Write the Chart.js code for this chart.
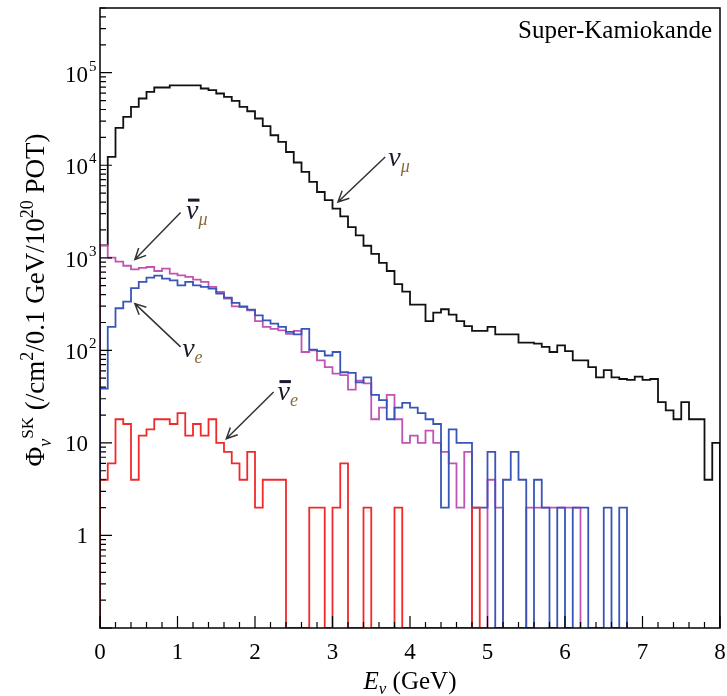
<!DOCTYPE html>
<html>
<head>
<meta charset="utf-8">
<title>Super-Kamiokande flux</title>
<script src="https://cdn.jsdelivr.net/npm/chart.js@4.4.0/dist/chart.umd.min.js"></script>
<style>
  html, body { margin: 0; padding: 0; background: #fff; }
  canvas { display: block; }
</style>
</head>
<body>
<canvas id="flux-chart" width="727" height="696"></canvas>
<script>
// Binning: 0.1 GeV wide bins from 0 to 8 GeV
const BIN_WIDTH = 0.1;
const E_MIN = 0;
const E_MAX = 8;
const FLUX_MIN = 0.1;
const FLUX_MAX = 5e5;

// Flux per bin (/cm2/0.1 GeV/1e20 POT), 80 bins each
const numuFlux = [
  1365, 12300, 25300, 33300, 42700, 52600, 62100, 69200, 69200, 72800,
  72800, 72800, 72800, 67500, 64700, 59600, 54800, 49600, 42700, 38300,
  32000, 26400, 21100, 17900, 13900, 10700, 8470, 6600, 5140, 4200,
  3400, 2800, 2150, 1750, 1350, 1100, 880, 720, 520, 430,
  312, 312, 207, 256, 278, 243, 207, 183, 162, 162,
  179, 149, 149, 149, 121, 121, 118, 109, 96, 113,
  98, 78, 78, 66, 51, 61, 51, 49, 48, 52,
  48, 49, 27.6, 22.5, 18, 27.6, 18, 18, 4, 10
];
const numubarFlux = [
  1365, 1005, 910, 820, 750, 780, 795, 720, 764, 675,
  647, 621, 581, 548, 484, 427, 362, 299, 294, 270,
  207, 179, 171, 164, 151, 162, 96, 100, 78, 66,
  56, 54, 37.6, 47, 44, 18, 24, 33, 18, 10,
  12, 10, 13.6, 10, 8, 6, 2, 8, 0, 0,
  4, 2, 0, 0, 0, 2, 2, 2, 2, 2,
  2, 2, 0, 0, 0, 0, 0, 0, 0, 0,
  0, 0, 0, 0, 0, 0, 0, 0, 0, 0
];
const nueFlux = [
  38.5, 179, 285, 336, 470, 548, 610, 641, 596, 571,
  504, 548, 504, 484, 464, 410, 371, 325, 299, 275,
  239, 211, 194, 179, 158, 149, 171, 102, 98, 88,
  96, 58, 57, 45, 51, 33, 29, 18, 24, 27,
  24, 21, 18, 16, 2, 14, 10, 10, 2, 2,
  8, 0, 4, 8, 4, 0, 4, 2, 0, 2,
  0, 2, 2, 0, 0, 2, 0, 2, 0, 0,
  0, 0, 0, 0, 0, 0, 0, 0, 0, 0
];
const nuebarFlux = [
  4, 6, 18, 16, 4, 12, 14, 18, 18, 16,
  21, 12, 16, 12, 18, 10, 8, 6, 4, 8,
  2, 4, 4, 4, 0, 0, 0, 2, 2, 0,
  2, 6, 0, 0, 2, 0, 0, 0, 2, 0,
  0, 0, 0, 0, 0, 0, 0, 0, 2, 0,
  0, 0, 0, 0, 0, 0, 0, 0, 0, 0,
  0, 0, 0, 0, 0, 0, 0, 0, 0, 0,
  0, 0, 0, 0, 0, 0, 0, 0, 0, 0
];

// Axis labels
const xTickLabels = ['0', '1', '2', '3', '4', '5', '6', '7', '8'];
const yTickValues = [1, 10, 100, 1000, 10000, 100000];

// Arrow annotations, in data coordinates (GeV, flux)
const notes = [
  { nu: 'ν', sub: 'μ', bar: false, text: [3.72, 9900], from: [3.68, 12300], to: [3.07, 4010] },
  { nu: 'ν', sub: 'μ', bar: true,  text: [1.11, 2650], from: [1.04, 3080], to: [0.45, 960] },
  { nu: 'ν', sub: 'e', bar: false, text: [1.06, 84],   from: [1.04, 109],  to: [0.45, 320] },
  { nu: 'ν', sub: 'e', bar: true,  text: [2.29, 29],   from: [2.24, 35.4], to: [1.63, 11.1] }
];

const SERIF = '"Liberation Serif", "DejaVu Serif", serif';

// Turn bin contents into the corner points of a step outline
function histPoints(values) {
  let last = values.length - 1;
  while (last > 0 && values[last] <= 0) last--;
  const pts = [{ x: E_MIN, y: FLUX_MIN }];
  for (let i = 0; i <= last; i++) {
    pts.push({ x: i / 10, y: values[i] > 0 ? values[i] : FLUX_MIN });
  }
  const end = (last + 1) * BIN_WIDTH;
  pts.push({ x: end, y: FLUX_MIN });
  return pts;
}

function histDataset(label, values, color) {
  return {
    label: label,
    data: histPoints(values),
    borderColor: color,
    borderWidth: 1.8,
    stepped: 'before',
    pointRadius: 0,
    fill: false,
    tension: 0
  };
}

// Draw a run of text pieces (regular / italic / raised / lowered) from x
function drawPieces(ctx, pieces, x, y) {
  let cx = x;
  pieces.forEach(p => {
    ctx.font = (p.italic ? 'italic ' : '') + p.size + 'px ' + SERIF;
    ctx.fillText(p.t, cx, y + (p.dy || 0));
    cx += ctx.measureText(p.t).width;
  });
  return cx - x;
}

function piecesWidth(ctx, pieces) {
  let w = 0;
  pieces.forEach(p => {
    ctx.font = (p.italic ? 'italic ' : '') + p.size + 'px ' + SERIF;
    w += ctx.measureText(p.t).width;
  });
  return w;
}

function drawArrow(ctx, x1, y1, x2, y2) {
  const ang = Math.atan2(y2 - y1, x2 - x1);
  const head = 12;
  ctx.beginPath();
  ctx.moveTo(x1, y1);
  ctx.lineTo(x2, y2);
  ctx.moveTo(x2 - head * Math.cos(ang - 0.45), y2 - head * Math.sin(ang - 0.45));
  ctx.lineTo(x2, y2);
  ctx.lineTo(x2 - head * Math.cos(ang + 0.45), y2 - head * Math.sin(ang + 0.45));
  ctx.stroke();
}

// Frame, inward ticks, labels, titles and arrows
const decorations = {
  id: 'decorations',
  afterDraw(chart) {
    const ctx = chart.ctx;
    const area = chart.chartArea;
    const xs = chart.scales.x;
    const ys = chart.scales.y;
    ctx.save();
    ctx.fillStyle = '#000';
    ctx.strokeStyle = '#000';

    // frame
    ctx.lineWidth = 1.5;
    ctx.strokeRect(area.left, area.top, area.right - area.left, area.bottom - area.top);

    // x ticks every 0.2 GeV, long ones at whole GeV
    ctx.lineWidth = 1.2;
    ctx.beginPath();
    for (let k = 0; k <= 40; k++) {
      const px = xs.getPixelForValue(k * 0.2);
      const len = k % 5 === 0 ? 12 : 6;
      ctx.moveTo(px, area.bottom);
      ctx.lineTo(px, area.bottom - len);
    }
    // y ticks: 1..9 x 10^n
    for (let d = -1; d <= 5; d++) {
      for (let m = 1; m <= 9; m++) {
        const v = m * Math.pow(10, d);
        if (v < FLUX_MIN || v > FLUX_MAX) continue;
        const py = ys.getPixelForValue(v);
        const len = m === 1 ? 12 : 6;
        ctx.moveTo(area.left, py);
        ctx.lineTo(area.left + len, py);
      }
    }
    ctx.stroke();

    // x tick labels
    ctx.font = '23px ' + SERIF;
    ctx.textAlign = 'center';
    ctx.textBaseline = 'alphabetic';
    xTickLabels.forEach((lab, i) => {
      ctx.fillText(lab, xs.getPixelForValue(i), 659);
    });

    // y tick labels, powers of ten with raised exponent
    ctx.textBaseline = 'middle';
    yTickValues.forEach(v => {
      const py = ys.getPixelForValue(v);
      const exp = Math.round(Math.log10(v));
      ctx.textAlign = 'right';
      ctx.font = '23px ' + SERIF;
      if (exp <= 1) {
        ctx.fillText(String(v), 88, py + 2);
      } else {
        ctx.fillText('10', 88, py + 3);
        ctx.textAlign = 'left';
        ctx.font = '15px ' + SERIF;
        ctx.fillText(String(exp), 89, py - 6);
      }
    });

    // x title
    ctx.textAlign = 'left';
    ctx.textBaseline = 'alphabetic';
    const xTitle = [
      { t: 'E', size: 25, italic: true },
      { t: 'ν', size: 17, italic: true, dy: 5 },
      { t: ' (GeV)', size: 25 }
    ];
    const xw = piecesWidth(ctx, xTitle);
    drawPieces(ctx, xTitle, (area.left + area.right) / 2 - xw / 2, 689);

    // y title, rotated
    const yTitle = [
      { t: 'Φ', size: 27 },
      { t: 'ν', size: 18, italic: true, dy: 7 },
      { t: 'SK', size: 17, dy: -11 },
      { t: ' (/cm', size: 27 },
      { t: '2', size: 18, dy: -11 },
      { t: '/0.1 GeV/10', size: 27 },
      { t: '20', size: 18, dy: -11 },
      { t: ' POT)', size: 27 }
    ];
    const yw = piecesWidth(ctx, yTitle);
    ctx.save();
    ctx.translate(44, 300);
    ctx.rotate(-Math.PI / 2);
    drawPieces(ctx, yTitle, -yw / 2, 0);
    ctx.restore();

    // detector label
    ctx.font = '25px ' + SERIF;
    ctx.textAlign = 'right';
    ctx.fillText('Super-Kamiokande', 712, 38);

    // arrows and particle labels
    ctx.strokeStyle = '#333';
    ctx.lineWidth = 1.5;
    notes.forEach(n => {
      drawArrow(ctx,
        xs.getPixelForValue(n.from[0]), ys.getPixelForValue(n.from[1]),
        xs.getPixelForValue(n.to[0]), ys.getPixelForValue(n.to[1]));
      const tx = xs.getPixelForValue(n.text[0]);
      const ty = ys.getPixelForValue(n.text[1]);
      ctx.fillStyle = '#1a1a2a';
      ctx.textAlign = 'left';
      ctx.font = 'italic 28px ' + SERIF;
      const nuW = ctx.measureText(n.nu).width;
      ctx.fillText(n.nu, tx, ty);
      if (n.bar) {
        ctx.fillRect(tx + 2, ty - 20, nuW - 1, 3);
      }
      ctx.fillStyle = '#8a6a3a';
      ctx.font = 'italic 18px ' + SERIF;
      ctx.fillText(n.sub, tx + nuW, ty + 6);
    });
    ctx.restore();
  }
};

const ctx = document.getElementById('flux-chart').getContext('2d');
const fluxChart = new Chart(ctx, {
  type: 'line',
  data: {
    // first dataset is drawn on top
    datasets: [
      histDataset('anti-nu_e', nuebarFlux, '#f02a2a'),
      histDataset('nu_e', nueFlux, '#3a55b8'),
      histDataset('anti-nu_mu', numubarFlux, '#c054b4'),
      histDataset('nu_mu', numuFlux, '#111111')
    ]
  },
  options: {
    responsive: false,
    animation: false,
    devicePixelRatio: 1,
    layout: { padding: { top: 8, right: 7, left: 0, bottom: 0 } },
    plugins: {
      legend: { display: false },
      tooltip: { enabled: false }
    },
    scales: {
      x: {
        type: 'linear',
        min: E_MIN,
        max: E_MAX,
        grid: { display: false },
        border: { display: false },
        ticks: { display: false },
        afterFit: scale => { scale.height = 68; }
      },
      y: {
        type: 'logarithmic',
        min: FLUX_MIN,
        max: FLUX_MAX,
        grid: { display: false },
        border: { display: false },
        ticks: { display: false },
        afterFit: scale => { scale.width = 100; }
      }
    }
  },
  plugins: [decorations]
});
</script>
</body>
</html>
